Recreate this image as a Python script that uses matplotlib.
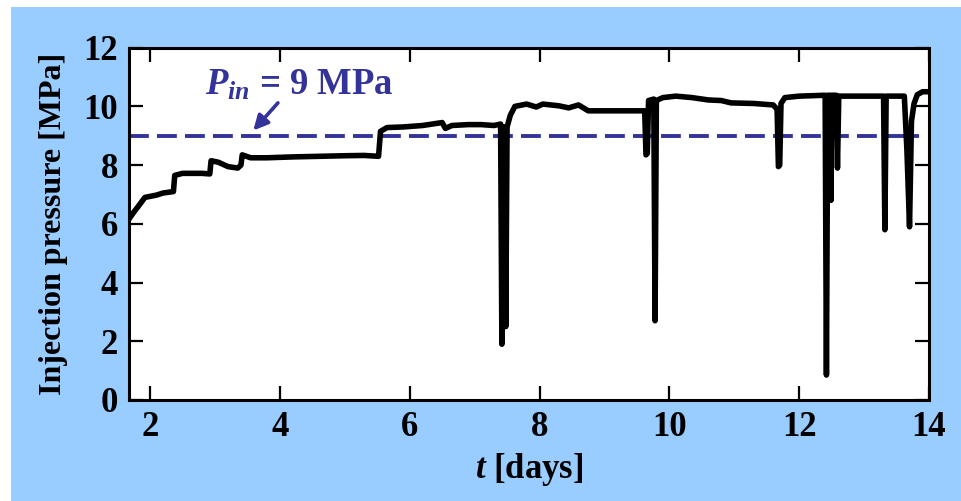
import matplotlib
matplotlib.use("Agg")
import matplotlib.pyplot as plt
from matplotlib.patches import Rectangle

# ================================
# data
# ================================
t_days = [1.64, 1.75, 1.82, 1.92, 2.10, 2.20, 2.36, 2.38, 2.50, 2.80,
          2.92, 2.94, 3.05, 3.20, 3.35, 3.40, 3.42, 3.55, 3.80, 4.20,
          4.60, 5.00, 5.30, 5.52, 5.55, 5.65, 5.90, 6.20, 6.50, 6.55,
          6.65, 6.90, 7.10, 7.30, 7.40, 7.42, 7.44, 7.47, 7.48, 7.50,
          7.55, 7.62, 7.80, 7.95, 8.05, 8.30, 8.45, 8.60, 8.75, 9.20,
          9.62, 9.64, 9.66, 9.68, 9.76, 9.78, 9.80, 9.90, 10.10, 10.35,
          10.60, 10.80, 10.95, 11.30, 11.60, 11.66, 11.68, 11.70, 11.72, 11.78,
          12.00, 12.40, 12.42, 12.44, 12.47, 12.49, 12.50, 12.57, 12.59, 12.61,
          13.00, 13.30, 13.32, 13.34, 13.62, 13.66, 13.70, 13.73, 13.77, 13.82,
          13.90, 14.00]
pressure = [6.05, 6.40, 6.60, 6.90, 6.98, 7.05, 7.10, 7.65, 7.72, 7.72,
            7.70, 8.15, 8.10, 7.95, 7.90, 8.00, 8.35, 8.25, 8.25, 8.28,
            8.30, 8.32, 8.33, 8.30, 9.15, 9.28, 9.30, 9.35, 9.45, 9.25,
            9.35, 9.38, 9.38, 9.35, 9.40, 1.90, 9.30, 9.30, 2.50, 9.30,
            9.70, 10.00, 10.08, 9.98, 10.08, 10.02, 9.95, 10.05, 9.85, 9.85,
            9.85, 8.35, 8.40, 10.20, 10.25, 2.70, 10.20, 10.30, 10.35, 10.30,
            10.22, 10.20, 10.12, 10.10, 10.05, 9.90, 7.95, 8.00, 10.10, 10.30,
            10.35, 10.38, 0.85, 10.38, 10.38, 6.80, 10.38, 10.38, 7.90, 10.35,
            10.35, 10.35, 5.80, 10.35, 10.35, 8.50, 5.90, 9.50, 10.10, 10.40,
            10.50, 10.50]

p_in = 9
p_in_end = 13.85
x_ticks = [2, 4, 6, 8, 10, 12, 14]
y_ticks = [0, 2, 4, 6, 8, 10, 12]

# ================================
# style
# ================================
plt.rcParams["font.family"] = ["Liberation Serif", "DejaVu Serif"]
plt.rcParams["font.weight"] = "bold"
plt.rcParams["mathtext.fontset"] = "custom"
plt.rcParams["mathtext.rm"] = "Liberation Serif:bold"
plt.rcParams["mathtext.it"] = "Liberation Serif:italic:bold"
plt.rcParams["mathtext.bf"] = "Liberation Serif:bold"

blue_bg = "#99ccff"
navy = "#333399"

fig = plt.figure(figsize=(9.61, 5.01), dpi=100)
fig.patch.set_facecolor("white")
bg = Rectangle((11 / 961, 0), 1, (501 - 7) / 501, transform=fig.transFigure,
               facecolor=blue_bg, edgecolor="none", zorder=-10)
fig.add_artist(bg)

ax = fig.add_axes([0.1342, 0.2016, 0.8325, 0.7032])
ax.set_zorder(1)
ax.set_facecolor("white")

ax.plot([1.675, p_in_end], [p_in, p_in], color=navy, lw=2.8,
        dashes=(5.1, 2.1), zorder=2)
ax.plot(t_days, pressure, color="black", lw=4.0,
        solid_capstyle="round", solid_joinstyle="round", zorder=3)

ax.annotate("", xy=(3.59, 9.18), xytext=(3.97, 10.12),
            arrowprops=dict(arrowstyle="-|>", color=navy, lw=2.6,
                            mutation_scale=22, shrinkA=0, shrinkB=0))
ax.text(2.85, 10.39, r"$P_{in}$ = 9 MPa", color=navy, fontsize=26.5,
        fontweight="bold", ha="left", va="baseline")

ax.set_xlim(1.675, 14)
ax.set_ylim(0, 12)
ax.set_xticks(x_ticks)
ax.set_yticks(y_ticks)
ax.tick_params(direction="in", length=10, width=1.6, top=True, right=True,
               labelsize=25, pad=8)
for lab in ax.get_xticklabels() + ax.get_yticklabels():
    lab.set_fontweight("bold")
for s in ax.spines.values():
    s.set_linewidth(2.2)

ax.set_xlabel(r"$t$ [days]", fontsize=25, fontweight="bold", labelpad=5)
ax.set_ylabel("Injection pressure [MPa]", fontsize=23, fontweight="bold",
              labelpad=11)

fig.savefig("out.png", dpi=100)
